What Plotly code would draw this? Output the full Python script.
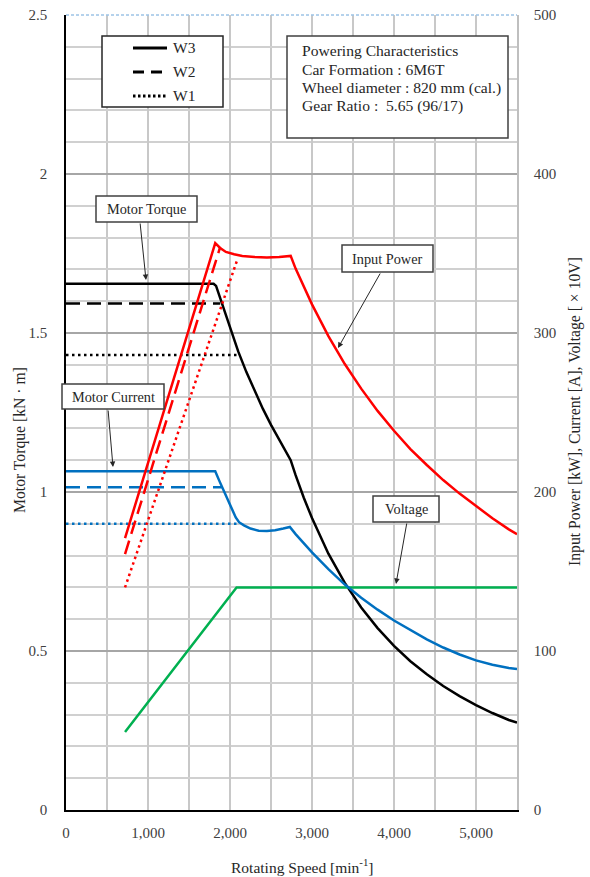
import plotly.graph_objects as go

# ---------------- data ----------------
speed_torque_w3 = [0, 1800, 1830, 1900, 2000, 2100, 2200, 2300, 2400, 2500, 2600, 2700, 2740,
                   2800, 2900, 3000, 3200, 3400, 3600, 3800, 4000, 4200, 4400, 4600, 4800,
                   5000, 5200, 5400, 5500]
torque_w3 = [1.655, 1.655, 1.648, 1.594, 1.514, 1.442, 1.377, 1.317, 1.262, 1.211, 1.165, 1.122, 1.100,
             1.053, 0.982, 0.918, 0.806, 0.714, 0.637, 0.572, 0.516, 0.468, 0.427, 0.390, 0.358,
             0.330, 0.305, 0.283, 0.275]
speed_torque_w2 = [0, 1880]
torque_w2 = [1.593, 1.593]
speed_torque_w1 = [0, 2090]
torque_w1 = [1.431, 1.431]

speed_current_w3 = [0, 1820, 1870, 1920, 1970, 2020, 2070, 2110, 2170, 2250, 2350, 2450, 2550, 2650, 2730,
                    2800, 2860, 3000, 3200, 3400, 3600, 3800, 4000, 4200, 4400, 4600, 4800, 5000,
                    5200, 5400, 5500]
current_w3 = [213, 213, 207, 201, 195, 189, 184, 181, 179, 177, 175.7, 175.5, 176, 177, 178,
              173.5, 170, 162, 151.5, 141.8, 133.5, 126, 119.2, 113, 107.3, 102.2, 97.8, 94.1,
              91.3, 89.3, 88.6]
speed_current_w2 = [0, 1900]
current_w2 = [203, 203]
speed_current_w1 = [0, 2085]
current_w1 = [180, 180]

speed_power_w3 = [720, 1820, 1880, 1950, 2050, 2150, 2300, 2450, 2600, 2740, 2800, 2900, 3000, 3200,
                  3400, 3600, 3800, 4000, 4200, 4400, 4600, 4800, 5000, 5200, 5400, 5500]
power_w3 = [171, 356.5, 353.5, 351, 349.5, 348.5, 347.8, 347.5, 347.8, 348.5, 340.5, 329, 318, 298,
            280.5, 265, 251, 238.5, 227, 217, 207.5, 199, 191, 183.5, 176.5, 173.5]
speed_power_w2 = [720, 1880]
power_w2 = [161, 354]
speed_power_w1 = [720, 2095]
power_w1 = [140, 347]

speed_voltage = [720, 2080, 5500]
voltage = [49, 140, 140]

x_range = [0, 5500]
y_left_range = [0, 2.5]
y_right_range = [0, 500]

# ---------------- style ----------------
FONT = "Liberation Serif, Times New Roman, serif"
BLACK = "#000000"
RED = "#ff0000"
BLUE = "#0070c0"
GREEN = "#00b050"
DASH = "14px,7px"
DOT = "2.5px,3.5px"
LW = 2.5

W, H = 590, 877
ML, MR, MT, MB = 66, 73, 15, 67
PW = W - ML - MR
PH = H - MT - MB


def P(x, y):
    """pixel position -> paper coordinates (for decorations only)"""
    return (x - ML) / PW, (H - MB - y) / PH


fig = go.Figure()


def add(xs, ys, color, dash=None, axis="y"):
    fig.add_trace(go.Scatter(x=xs, y=ys, mode="lines", yaxis=axis,
                             line=dict(color=color, width=LW, dash=dash),
                             hoverinfo="skip", showlegend=False))


add(speed_voltage, voltage, GREEN, axis="y2")
add(speed_current_w1, current_w1, BLUE, DOT, "y2")
add(speed_current_w2, current_w2, BLUE, DASH, "y2")
add(speed_current_w3, current_w3, BLUE, None, "y2")
add(speed_power_w1, power_w1, RED, DOT, "y2")
add(speed_power_w2, power_w2, RED, DASH, "y2")
add(speed_power_w3, power_w3, RED, None, "y2")
add(speed_torque_w1, torque_w1, BLACK, DOT)
add(speed_torque_w2, torque_w2, BLACK, DASH)
add(speed_torque_w3, torque_w3, BLACK, None)

shapes = []
annotations = []

# top border (light blue dotted)
shapes.append(dict(type="line", xref="paper", yref="paper", x0=0, x1=1, y0=1, y1=1,
                   line=dict(color="#9dc3e6", width=1.5, dash="3px,2px")))


def box(x0, y0, x1, y1, color="#404040", width=1.5):
    a = P(x0, y0)
    b = P(x1, y1)
    shapes.append(dict(type="rect", xref="paper", yref="paper", x0=a[0], y0=b[1], x1=b[0], y1=a[1],
                       fillcolor="white", line=dict(color=color, width=width), layer="above"))


def text(x, y, s, size=15, anchor="center", color="#262626", angle=0):
    p = P(x, y)
    annotations.append(dict(xref="paper", yref="paper", x=p[0], y=p[1], text=s, showarrow=False,
                            xanchor=anchor, yanchor="middle", textangle=angle,
                            font=dict(family=FONT, size=size, color=color)))


def arrow(tx, ty, hx, hy):
    p = P(hx, hy)
    annotations.append(dict(xref="paper", yref="paper", x=p[0], y=p[1], text="",
                            showarrow=True, ax=tx - hx, ay=ty - hy, arrowhead=2, arrowsize=1.1,
                            arrowwidth=1, arrowcolor="#262626", standoff=0))


# legend box
box(102, 36, 223, 107, color="#262626")
legend_rows = [("W3", None, 48), ("W2", "11px,7px", 72), ("W1", "2.5px,2.5px", 96)]
for label, dsh, yy in legend_rows:
    a = P(133, yy)
    b = P(167, yy)
    shapes.append(dict(type="line", xref="paper", yref="paper", x0=a[0], x1=b[0], y0=a[1], y1=b[1],
                       line=dict(color="black", width=3, dash=dsh), layer="above"))
    text(171, yy, label, size=15.5, anchor="left")

# info box
box(287, 36, 508, 138, color="#404040")
info_lines = ["Powering Characteristics", "Car Formation : 6M6T",
              "Wheel diameter : 820 mm (cal.)", "Gear Ratio :  5.65 (96/17)"]
for i, s in enumerate(info_lines):
    text(300, 51 + i * 18.4, s, size=15.6, anchor="left")

# callouts
box(96, 196, 197, 222)
text(146.5, 209, "Motor Torque", size=14.3)
arrow(140, 222, 146, 280)

box(62, 384, 164, 409)
text(113, 396.5, "Motor Current", size=14.3)
arrow(108, 409, 113, 467)

box(342, 245, 433, 272)
text(387.5, 258.5, "Input Power", size=14.3)
arrow(381, 272, 338, 348)

box(373, 496, 439, 522)
text(406, 509, "Voltage", size=14.3)
arrow(407, 522, 396, 584)

# axis titles
text(20, 440, "Motor Torque [kN · m]", size=15.7, angle=-90)
text(575, 412, "Input Power [kW], Current [A], Voltage [ × 10V]", size=15.7, angle=-90)
text(302, 866, "Rotating Speed [min<sup>-1</sup>]", size=15.5)

fig.update_layout(
    width=W, height=H,
    margin=dict(l=ML, r=MR, t=MT, b=MB, pad=0, autoexpand=False),
    plot_bgcolor="white", paper_bgcolor="white",
    showlegend=False,
    font=dict(family=FONT, size=15, color="#404040"),
    shapes=shapes, annotations=annotations,
    xaxis=dict(range=x_range, dtick=1000, tick0=0, tickformat=",", automargin=False,
               showgrid=True, gridcolor="#c8c8c8", gridwidth=1.5,
               minor=dict(dtick=500, showgrid=True, gridcolor="#c8c8c8", gridwidth=1.5),
               showline=True, linecolor="black", linewidth=1.5, zeroline=False,
               ticks="", ticklabelstandoff=8, fixedrange=True),
    yaxis=dict(range=y_left_range, dtick=0.5, tick0=0, automargin=False,
               showgrid=True, gridcolor="#a6a6a6", gridwidth=1.5,
               minor=dict(dtick=0.1, showgrid=True, gridcolor="#d0d0d0", gridwidth=1.5),
               showline=True, linecolor="black", linewidth=1.5, zeroline=False,
               ticks="", ticklabelstandoff=14, fixedrange=True),
    yaxis2=dict(range=y_right_range, dtick=100, tick0=0, overlaying="y", side="right",
                automargin=False,
                showgrid=False, showline=True, linecolor="#bfbfbf", linewidth=1.5,
                zeroline=False, ticks="", ticklabelstandoff=12, fixedrange=True),
)

fig.write_html("out.html", config={"displayModeBar": False},
               post_script="document.body.style.margin='0';document.body.style.padding='0';")
